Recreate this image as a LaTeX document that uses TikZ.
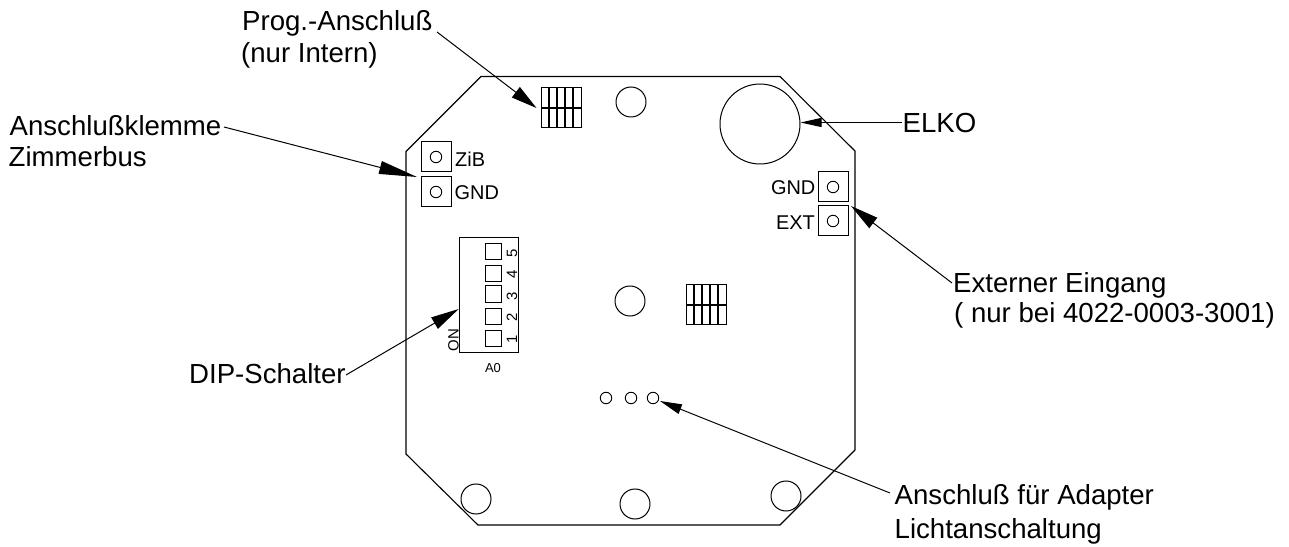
\documentclass[tikz,border=0pt]{standalone}
\usepackage{fontspec}
\setmainfont{Liberation Sans}
\usetikzlibrary{arrows.meta}
\tikzset{
  x=1bp,y=-1bp,
  outline/.style={draw=black,line width=1.1bp,fill=none,line join=miter},
  hole/.style={circle,draw=black,line width=1bp,inner sep=0pt,minimum size=30bp},
  pin/.style={circle,draw=black,line width=0.9bp,inner sep=0pt,minimum size=11.5bp},
  term/.style={rectangle,draw=black,line width=1bp,inner sep=0pt,minimum size=30bp},
  sw/.style={rectangle,draw=black,line width=1bp,inner sep=0pt,minimum size=16.5bp},
  lead/.style 2 args={draw=black,line width=1bp,-{Triangle[length=#1bp,width=#2bp]}},
  callout/.style={anchor=base west,inner sep=0pt,font=\fontsize{27.7}{28}\selectfont},
  small/.style={inner sep=0pt,font=\fontsize{20}{20}\selectfont},
  tiny/.style={inner sep=0pt,font=\fontsize{15}{15}\selectfont},
}
\newcommand{\hdrgrid}[2]{%
  \draw[black,line width=1bp] (#1,#2) rectangle ++(40,40);
  \foreach \i in {8,16,24,32} \draw[black,line width=1.2bp] (#1+\i,#2) -- ++(0,40);
  \draw[black,line width=1.6bp] (#1,#2+20) -- ++(40,0);
}
\begin{document}
\begin{tikzpicture}
\useasboundingbox (0,0) rectangle (1289,547);
% board
\draw[outline] (481,76.5) -- (780,76.5) -- (855,151) -- (855,450) -- (780,525) -- (478,525) -- (406,454) -- (406,151.5) -- cycle;
% mounting holes
\node[hole] (h1) at (631,102) {};
\node[hole] (h2) at (630,301) {};
\node[hole] (h3) at (476,499) {};
\node[hole] (h4) at (635,504) {};
\node[hole] (h5) at (786,496) {};
\node[hole,minimum size=80bp] (elko) at (760,124) {};
% header grids
\hdrgrid{541}{88}
\hdrgrid{686}{285}
% left terminals
\node[term] (zibbox) at (436,157) {};
\node[pin] at (zibbox.center) {};
\node[term] (gndbox) at (436,192) {};
\node[pin] at (gndbox.center) {};
\node[small,anchor=base west] (zib) at (455,167) {ZiB};
\node[small,anchor=base west] (gnd) at (454.5,200) {GND};
% right terminals
\node[term] (rgndbox) at (833,187) {};
\node[pin] at (rgndbox.center) {};
\node[term] (extbox) at (833,221) {};
\node[pin] at (extbox.center) {};
\node[small,anchor=base east] (rgnd) at (815.5,195) {GND};
\node[small,anchor=base east] (ext) at (815,229.5) {EXT};
% DIP switch
\node[rectangle,draw=black,line width=1bp,inner sep=0pt,minimum width=58.5bp,minimum height=115bp] (dip) at (489,295.5) {};
\node[sw] (s5) at (493.5,251.5) {};
\node[sw] (s4) at (493.5,273.5) {};
\node[sw] (s3) at (493.5,294) {};
\node[sw] (s2) at (493.5,316.5) {};
\node[sw] (s1) at (493.5,338.5) {};
\node[tiny,rotate=90] (d5) at (512,253) {5};
\node[tiny,rotate=90] (d4) at (512,274) {4};
\node[tiny,rotate=90] (d3) at (512,296) {3};
\node[tiny,rotate=90] (d2) at (512,317) {2};
\node[tiny,rotate=90] (d1) at (512,339) {1};
\node[tiny,rotate=90] (on) at (453.5,340) {ON};
\node[inner sep=0pt,font=\fontsize{13}{13}\selectfont] (a0) at (493,368) {A0};
% pins
\node[pin] (p1) at (606,398) {};
\node[pin] (p2) at (631,398) {};
\node[pin] (p3) at (653,398) {};
% labels
\node[callout] (prog) at (242,30.5) {Prog.-Anschluß};
\node[callout] (intern) at (241,63) {(nur Intern)};
\node[callout] (klemme) at (9.5,136) {Anschlußklemme};
\node[callout] (zimmer) at (8.5,167) {Zimmerbus};
\node[callout] (elkotxt) at (902.5,133) {ELKO};
\node[callout] (extern) at (953,293) {Externer Eingang};
\node[callout] (nurbei) at (954,323) {( nur bei 4022-0003-3001)};
\node[callout] (dipt) at (189,384) {DIP-Schalter};
\node[callout] (adapter) at (894.5,504) {Anschluß für Adapter};
\node[callout] (licht) at (894.5,538) {Lichtanschaltung};
% connector ends
\coordinate (c1s) at (437,32);
\coordinate (c1t) at (536.5,108);
\coordinate (c2s) at (224,127);
\coordinate (c2t) at (417,177);
\coordinate (c3s) at (902,122.5);
\coordinate (c3t) at (800.5,122.5);
\coordinate (c4s) at (952,283);
\coordinate (c4t) at (851,206);
\coordinate (c5s) at (346,375);
\coordinate (c5t) at (458.7,309);
\coordinate (c6s) at (890,493);
\coordinate (c6t) at (660,401);
\draw[lead={26}{13}] (c1s) -- (c1t);
\draw[lead={38}{13}] (c2s) -- (c2t);
\draw[lead={21}{9}] (c3s) -- (c3t);
\draw[lead={28}{13}] (c4s) -- (c4t);
\draw[lead={28}{13}] (c5s) -- (c5t);
\draw[lead={22}{10}] (c6s) -- (c6t);
\end{tikzpicture}
\end{document}
